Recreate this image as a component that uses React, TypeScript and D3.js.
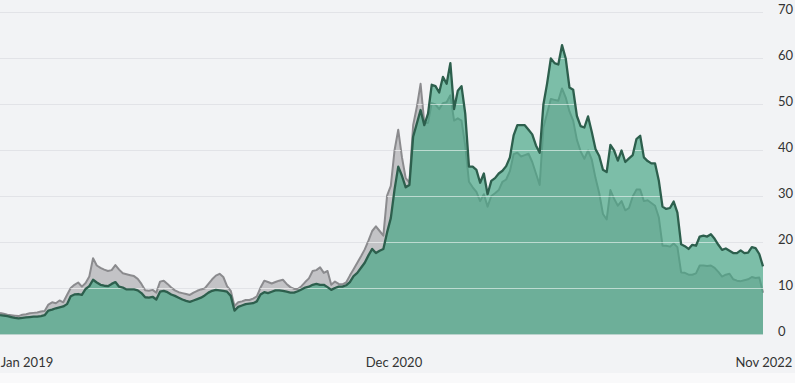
import React from "react";
import * as d3 from "d3";

// Weekly observations starting 2018-11-21
const START = new Date(2018, 10, 21);

const greenValues = [
  4.2, 4.1, 4.0, 3.8, 3.6, 3.5, 3.6, 3.7, 3.8, 3.9,
  3.9, 4.0, 4.2, 5.2, 5.4, 5.7, 5.9, 6.1, 6.6, 8.3,
  8.7, 8.8, 8.6, 9.9, 10.5, 11.9, 11.3, 10.8, 10.6, 10.5,
  11.0, 11.4, 10.4, 10.2, 9.8, 9.8, 9.8, 9.6, 9.0, 8.1,
  8.0, 8.2, 7.6, 9.3, 9.5, 9.2, 8.7, 8.4, 8.0, 7.6,
  7.3, 7.1, 7.4, 7.7, 8.0, 8.5, 9.1, 9.5, 9.7, 9.6,
  9.5, 9.3, 8.4, 5.2, 6.0, 6.3, 6.6, 6.7, 6.8, 7.2,
  8.7, 9.2, 9.0, 9.3, 9.6, 9.6, 9.5, 9.3, 9.1, 9.1,
  9.4, 9.8, 10.2, 10.4, 10.8, 11.0, 10.8, 10.8, 10.3, 9.7,
  10.1, 10.4, 10.4, 10.7, 11.4, 12.7, 13.4, 14.5, 15.6, 17.2,
  18.6, 17.7, 18.2, 18.6, 22.2, 25.3, 31.5, 36.5, 34.5, 32.0,
  32.5, 43.0, 45.9, 48.8, 45.5, 48.0, 54.3, 54.0, 52.6, 56.0,
  54.5, 59.0, 49.0, 53.0, 54.0, 48.0, 36.5, 36.5, 35.8, 33.0,
  35.0, 30.5, 33.4, 34.0, 35.0, 35.6, 36.6, 38.5, 43.3, 45.5,
  45.5, 45.5, 44.5, 43.5, 41.1, 39.5, 50.0, 54.6, 60.0, 59.0,
  58.7, 62.9, 60.0, 53.7, 53.2, 47.5, 45.3, 45.0, 47.4, 44.0,
  40.3, 38.8, 35.8, 35.3, 41.2, 40.0, 37.8, 40.0, 37.5, 38.3,
  39.0, 42.5, 43.2, 38.5, 37.7, 37.2, 37.2, 33.5, 27.8, 27.3,
  27.5, 28.9, 26.5, 19.6, 19.2, 18.6, 19.5, 19.3, 21.3, 21.5,
  21.3, 21.8, 20.8, 19.5, 18.4, 18.7, 18.2, 17.7, 17.7, 18.3,
  17.7, 17.8, 19.0, 18.8, 17.5, 14.8,
];

const greyValues = [
  4.7, 4.5, 4.3, 4.2, 4.1, 4.0, 4.3, 4.4, 4.6, 4.7,
  4.8, 5.0, 5.1, 6.5, 7.0, 6.8, 7.4, 7.0, 8.6, 10.1,
  10.8, 11.3, 10.4, 11.2, 12.6, 16.6, 15.0, 14.5, 14.1, 13.8,
  14.0, 15.1, 14.1, 13.3, 13.1, 12.9, 12.7, 12.1, 11.0, 9.6,
  9.5, 9.7, 9.1, 11.5, 11.7, 11.0, 10.2, 9.6, 9.2, 9.0,
  8.8, 8.6, 9.1, 9.5, 9.8, 10.0, 11.0, 12.0, 12.8, 13.2,
  12.5, 10.5, 9.5, 6.2, 7.0, 7.2, 7.5, 7.5, 7.8, 8.3,
  10.2, 11.7, 11.4, 11.1, 11.4, 11.7, 11.9, 11.0, 10.3, 9.9,
  9.9, 10.5, 11.4, 12.2, 13.8, 14.0, 14.6, 13.4, 13.8, 10.8,
  11.5, 11.0, 10.9, 11.3, 12.8, 14.2, 15.6, 17.0, 18.5, 20.4,
  22.5, 23.5, 22.5, 21.5, 30.2, 32.3, 40.0, 44.5, 38.5, 34.0,
  33.0, 45.5, 49.5, 54.5, 46.0, 46.0, 50.3, 50.0, 49.0, 50.3,
  50.5, 52.0, 46.5, 47.0, 46.5, 41.0, 33.2, 32.0, 31.0, 29.0,
  30.5, 27.8, 30.1, 30.7, 31.4, 33.2, 33.7, 35.5, 39.2, 39.5,
  38.7, 39.0, 39.3, 37.5, 35.0, 32.5, 45.0, 48.1, 51.2, 51.0,
  50.8, 53.5, 51.5, 48.5, 46.5, 42.3, 39.8, 38.2, 40.0, 38.0,
  34.0, 30.7, 26.2, 25.0, 31.4, 29.5, 28.0, 29.0, 27.0, 27.5,
  30.0, 31.5, 31.5, 29.0, 29.2, 28.6, 28.0, 25.5, 19.3, 19.3,
  19.1, 19.8, 19.0, 13.5, 13.4, 13.0, 13.0, 13.3, 15.0, 15.0,
  14.9, 15.0, 14.5, 13.6, 12.6, 13.0, 13.2, 12.0, 11.7, 11.6,
  11.8, 12.0, 12.5, 12.3, 12.4, 9.1,
];

const yTicks = [0, 10, 20, 30, 40, 50, 60, 70];
const xTickDates = [new Date(2019, 0, 1), new Date(2020, 11, 1), new Date(2022, 10, 1)];
const xTickLabels = ["Jan 2019", "Dec 2020", "Nov 2022"];

const W = 795;
const H = 383;
const PLOT_RIGHT = 763;
const LABEL_HALF = 27;

export default function App() {
  const dates = greenValues.map((_, i) => d3.timeDay.offset(START, i * 7));
  const x = d3.scaleTime().domain([dates[0], dates[dates.length - 1]]).range([0, PLOT_RIGHT]);
  const y = d3.scaleLinear().domain([0, 70]).range([334.5, 12.5]);

  const greenData = greenValues.map((v, i) => ({ d: dates[i], v }));
  const greyData = greyValues.map((v, i) => ({ d: dates[i], v }));

  const area = d3
    .area<{ d: Date; v: number }>()
    .x((p) => x(p.d))
    .y0(y(0))
    .y1((p) => y(p.v));
  const line = d3
    .line<{ d: Date; v: number }>()
    .x((p) => x(p.d))
    .y((p) => y(p.v));

  const greenArea = area(greenData) || "";
  const greyArea = area(greyData) || "";

  const font = "Lato, 'Open Sans', 'DejaVu Sans', sans-serif";

  return (
    <svg
      width={W}
      height={H}
      style={{ position: "absolute", left: 0, top: 0, display: "block" }}
    >
      <defs>
        <clipPath id="areaClip">
          <path d={greenArea} />
          <path d={greyArea} />
        </clipPath>
      </defs>
      <rect x={0} y={0} width={W} height={H} fill="#f9f9fa" />
      <rect x={0} y={0} width={W} height={373} fill="#f2f3f5" />

      {yTicks.map((t) => (
        <line
          key={"g" + t}
          x1={0}
          x2={PLOT_RIGHT}
          y1={y(t)}
          y2={y(t)}
          stroke="#e2e3e7"
          strokeWidth={1.2}
        />
      ))}

      <path d={greyArea} fill="#c3c3c6" />
      <path d={line(greyData) || ""} fill="none" stroke="#8b8b8e" strokeWidth={2} strokeLinejoin="round" />

      <path d={greenArea} fill="rgb(71,166,133)" fillOpacity={0.69} />

      <g clipPath="url(#areaClip)">
        {yTicks.map((t) => (
          <line
            key={"w" + t}
            x1={0}
            x2={PLOT_RIGHT}
            y1={y(t)}
            y2={y(t)}
            stroke="#ffffff"
            strokeOpacity={0.55}
            strokeWidth={1.2}
          />
        ))}
      </g>

      <path d={line(greenData) || ""} fill="none" stroke="#2d5f4d" strokeWidth={2.3} strokeLinejoin="round" />

      {yTicks.map((t) => (
        <text
          key={"yl" + t}
          x={778}
          y={y(t) - 2}
          dominantBaseline="middle"
          fontFamily={font}
          fontSize={13}
          fill="#333"
        >
          {t}
        </text>
      ))}

      {xTickDates.map((d, i) => (
        <text
          key={"xl" + i}
          x={Math.min(Math.max(x(d), LABEL_HALF), W - LABEL_HALF - 4)}
          y={367}
          textAnchor="middle"
          fontFamily={font}
          fontSize={13}
          fill="#333"
        >
          {xTickLabels[i]}
        </text>
      ))}
    </svg>
  );
}
